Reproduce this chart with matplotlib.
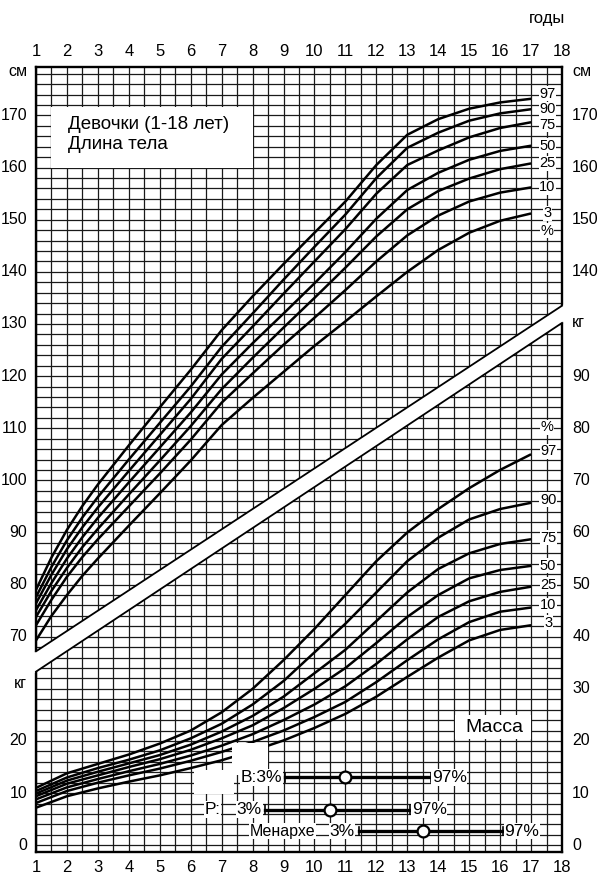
import numpy as np
import matplotlib.pyplot as plt
from matplotlib.patches import Polygon, Rectangle

plt.rcParams['font.family'] = ['Liberation Sans', 'DejaVu Sans']

# ages (years) at which the length curves were read
h_ages = [1, 1.5, 2, 2.5, 3, 4, 5, 6, 7, 8, 9, 10, 11, 12, 13, 14, 15, 16, 17]
pct_labels = ['97', '90', '75', '50', '25', '10', '3']

# body length, cm
h97 = [79.0, 85.2, 90.5, 95.1, 99.2, 106.7, 114.0, 121.2, 128.8, 135.3, 141.5, 147.5, 153.5, 160.5, 166.3, 169.3, 171.3, 172.5, 173.2]
h90 = [77.6, 83.4, 88.5, 92.9, 96.8, 104.0, 111.0, 118.0, 125.6, 132.0, 138.5, 144.8, 151.0, 158.0, 163.8, 166.7, 169.0, 170.4, 171.2]
h75 = [76.4, 81.9, 86.8, 91.0, 94.8, 101.8, 108.7, 115.6, 123.3, 129.5, 135.8, 142.0, 148.2, 155.0, 160.5, 163.3, 165.8, 167.6, 168.7]
h50 = [75.1, 80.3, 85.0, 89.1, 92.8, 99.6, 106.3, 113.0, 120.3, 126.3, 132.0, 137.8, 143.8, 150.2, 155.7, 159.0, 161.5, 163.2, 164.2]
h25 = [73.8, 78.8, 83.2, 87.2, 90.7, 97.3, 103.8, 110.4, 117.5, 123.5, 129.3, 135.0, 140.8, 146.8, 152.0, 155.5, 157.9, 159.7, 160.8]
h10 = [72.2, 77.1, 81.5, 85.3, 88.7, 95.0, 101.3, 107.8, 114.9, 120.5, 126.0, 131.2, 136.5, 142.0, 147.0, 150.8, 153.5, 155.2, 156.2]
h03 = [69.3, 74.0, 78.0, 81.7, 85.0, 91.3, 97.5, 103.8, 110.6, 115.8, 120.8, 125.8, 130.5, 135.3, 140.0, 144.2, 147.5, 149.8, 151.2]

# body mass, kg
w_ages = [1, 2, 3, 4, 5, 6, 7, 8, 9, 10, 11, 12, 13, 14, 15, 16, 17]
w97 = [11.0, 13.8, 15.6, 17.4, 19.5, 22.0, 25.5, 30.0, 35.5, 41.5, 48.0, 54.5, 60.0, 64.5, 68.5, 72.0, 75.0]
w90 = [10.4, 13.0, 14.8, 16.4, 18.2, 20.5, 23.3, 27.0, 31.5, 37.0, 42.5, 48.5, 54.5, 59.0, 62.5, 64.5, 65.7]
w75 = [9.9, 12.4, 14.1, 15.7, 17.3, 19.3, 21.8, 24.8, 28.5, 33.0, 37.5, 43.0, 48.5, 53.0, 56.0, 57.8, 58.7]
w50 = [9.4, 11.8, 13.4, 15.0, 16.5, 18.3, 20.5, 23.0, 26.3, 30.0, 34.0, 38.8, 43.8, 48.0, 51.2, 52.8, 53.6]
w25 = [8.8, 11.1, 12.7, 14.2, 15.6, 17.2, 19.1, 21.3, 24.0, 27.0, 30.5, 34.8, 39.5, 43.8, 46.8, 48.6, 49.6]
w10 = [8.1, 10.4, 12.0, 13.4, 14.7, 16.2, 17.9, 19.8, 22.0, 24.6, 27.5, 31.3, 35.5, 39.5, 42.8, 44.8, 45.6]
w03 = [7.2, 9.4, 10.9, 12.2, 13.4, 14.8, 16.3, 18.1, 20.1, 22.5, 25.2, 28.5, 32.3, 36.0, 39.3, 41.3, 42.2]

# maturation ranges: 3% age, median age, 97% age
stage_names = ['В', 'Р', 'Менархе']
stage_lo = [9.05, 8.4, 11.45]
stage_mid = [11.0, 10.5, 13.5]
stage_hi = [13.75, 13.1, 16.1]
stage_kg = [13.0, 6.85, 2.7]

# white separating band (cm scale)
band_x = [1, 18]
band_top = [67.2, 133.5]
band_bot = [63.3, 130.2]

height_ticks = [70, 80, 90, 100, 110, 120, 130, 140, 150, 160, 170]
kg_ticks = [0, 10, 20, 30, 40, 50, 60, 70, 80, 90]
KG0 = 30  # kg are drawn shifted: 0 kg sits where 30 cm would be

heights = [h97, h90, h75, h50, h25, h10, h03]
weights = [w97, w90, w75, w50, w25, w10, w03]
h_lab_shift = [1.0, 0.0, -0.5, 0, 0, 0, 0]
w_lab_shift = [0.6, 0.6, 0.3, 0, 0.4, 0.4, 0.5]

fig = plt.figure(figsize=(6.01, 8.76), dpi=100)
ax = fig.add_axes([36 / 601, 1 - 852 / 876, 526 / 601, 785 / 876])
ax.set_xlim(1, 18)
ax.set_ylim(28.7, 179.3)

# grid paper
ax.vlines(np.arange(1, 18.01, 0.5), 28.7, 179.3, color='#1a1a1a', lw=0.9, zorder=1)
ax.hlines(np.arange(30, 179.3, 2), 1, 18, color='#1a1a1a', lw=0.9, zorder=1)

# white boxes with captions
ax.add_patch(Rectangle((1.5, 160), 6.5, 11.6, fc='white', ec='none', zorder=2))
ax.text(2.05, 168.3, 'Девочки (1-18 лет)', fontsize=13.5, va='center', zorder=3)
ax.text(2.05, 164.4, 'Длина тела', fontsize=13.5, va='center', zorder=3)
ax.add_patch(Rectangle((14.55, KG0 + 20.4), 2.45, 4.6, fc='white', ec='none', zorder=2))
ax.text(15.8, KG0 + 22.6, 'Масса', fontsize=14, ha='center', va='center', zorder=3)

# curves
for hs in heights:
    ax.plot(h_ages, hs, color='black', lw=1.8, zorder=4, solid_capstyle='butt')
for ws in weights:
    ax.plot(w_ages, np.array(ws) + KG0, color='black', lw=1.8, zorder=4, solid_capstyle='butt')

# blank spots around the maturation captions
ax.add_patch(Rectangle((7.35, KG0 + 13.5), 1.15, 6.1, fc='white', ec='none', zorder=5))
ax.add_patch(Rectangle((6.1, KG0 + 9.8), 1.3, 4.6, fc='white', ec='none', zorder=5))

# percentile labels
lab = dict(fontsize=10.5, ha='center', va='center', zorder=6,
           bbox=dict(fc='white', ec='none', pad=0.3))
for p, hs, d in zip(pct_labels, heights, h_lab_shift):
    ax.text(17.52, hs[-1] + d, p, **lab)
ax.text(17.52, h03[-1] - 3.3, '%', **lab)
for p, ws, d in zip(pct_labels, weights, w_lab_shift):
    ax.text(17.55, ws[-1] + KG0 + d, p, **lab)
ax.text(17.52, w97[-1] + KG0 + 5.2, '%', **lab)

# maturation bars
bar_txt = dict(fontsize=12.5, va='center', zorder=6,
               bbox=dict(fc='white', ec='none', pad=0.5))
for i, name in enumerate(stage_names):
    y = stage_kg[i] + KG0
    ax.plot([stage_lo[i], stage_hi[i]], [y, y], color='black', lw=2.4, zorder=6)
    ax.plot([stage_lo[i]] * 2, [y - 0.8, y + 0.8], color='black', lw=1.2, zorder=6)
    ax.plot([stage_hi[i]] * 2, [y - 0.8, y + 0.8], color='black', lw=1.2, zorder=6)
    ax.plot(stage_mid[i], y, 'o', ms=8.5, mfc='white', mec='black', mew=1.6, zorder=7)
    ax.text(stage_hi[i] + 0.04, y, '97%', **bar_txt)
ax.text(stage_lo[0] - 0.08, stage_kg[0] + KG0, stage_names[0] + ':3%', ha='right', **bar_txt)
ax.text(stage_lo[1] - 0.1, stage_kg[1] + KG0, '3%', ha='right', **bar_txt)
ax.text(6.7, stage_kg[1] + KG0, stage_names[1] + ':', ha='center', **bar_txt)
ax.text(stage_lo[2] - 0.15, stage_kg[2] + KG0, '3%', ha='right', **bar_txt)
ax.text(8.97, stage_kg[2] + KG0, stage_names[2], ha='center', fontsize=11.5,
        va='center', zorder=6, bbox=dict(fc='white', ec='none', pad=0.5))

# diagonal white band
slope_t = (band_top[1] - band_top[0]) / (band_x[1] - band_x[0])
slope_b = (band_bot[1] - band_bot[0]) / (band_x[1] - band_x[0])
ext = 0.08
ax.add_patch(Polygon([(band_x[0] - ext, band_top[0] - ext * slope_t),
                      (band_x[1] + ext, band_top[1] + ext * slope_t),
                      (band_x[1] + ext, band_bot[1] + ext * slope_b),
                      (band_x[0] - ext, band_bot[0] - ext * slope_b)], closed=True,
                     fc='white', ec='none', zorder=8, clip_on=False))
ax.plot(band_x, band_top, color='black', lw=1.3, zorder=9, clip_on=False)
ax.plot(band_x, band_bot, color='black', lw=1.3, zorder=9, clip_on=False)

for s in ax.spines.values():
    s.set_linewidth(1.7)
    s.set_zorder(7)

# axis labels
ax.set_xticks(range(1, 19))
ax.set_xticklabels([str(a) for a in range(1, 19)], fontsize=12)
ax.tick_params(axis='x', length=0, top=True, labeltop=True, pad=6)
ax.set_yticks([])

tk = dict(fontsize=11.5, va='center', clip_on=False)
for v in height_ticks:
    ax.text(0.72, v, str(v), ha='right', **tk)
for v in [140, 150, 160, 170]:
    ax.text(18.33, v, str(v), ha='left', **tk)
for v in kg_ticks:
    ax.text(18.33, v + KG0, str(v), ha='left', **tk)
for v in [0, 10, 20]:
    ax.text(0.72, v + KG0, str(v), ha='right', **tk)
ax.text(0.72, 178.4, 'см', ha='right', **tk)
ax.text(18.33, 178.4, 'см', ha='left', **tk)
ax.text(0.72, 61.1, 'кг', ha='right', **tk)
ax.text(18.33, 130.2, 'кг', ha='left', **tk)
fig.text(547 / 601, 1 - 18 / 876, 'годы', fontsize=12, ha='center', va='center')

fig.savefig('out.png', dpi=100, facecolor='white')
